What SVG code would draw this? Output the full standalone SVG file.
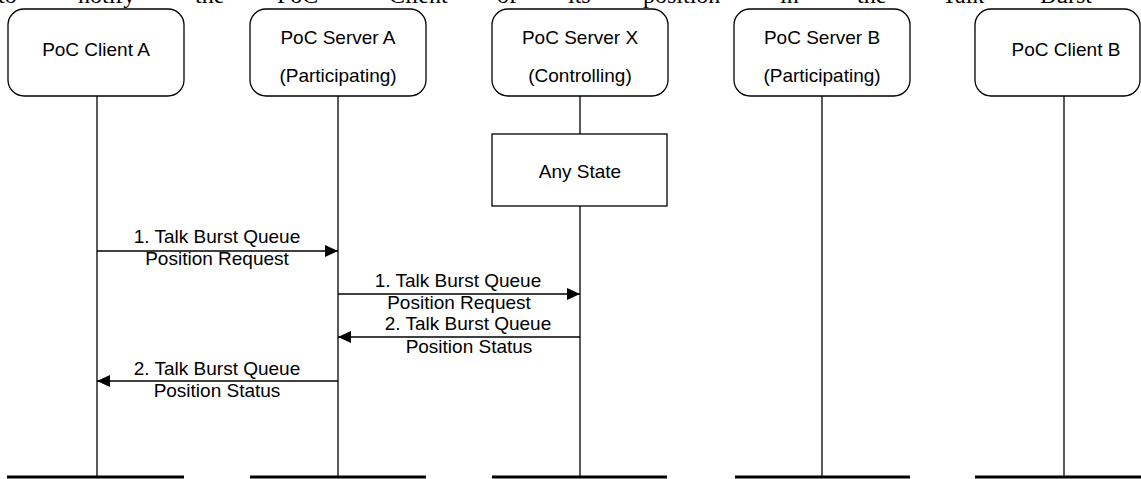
<svg xmlns="http://www.w3.org/2000/svg" width="1141" height="479" viewBox="0 0 1141 479">
<style>
.box{fill:#fff;stroke:#000;stroke-width:1.3}
.t{font-family:"Liberation Sans",Arial,sans-serif;font-size:19px;fill:#000;text-anchor:middle}
.life{stroke:#000;stroke-width:1.3}
.base{stroke:#000;stroke-width:3}
.msg{stroke:#000;stroke-width:1.3;fill:none}
.page{font-family:"Liberation Serif","Times New Roman",serif;font-size:24px;fill:#000}
</style>
<defs>
<marker id="ah" viewBox="0 0 13 12" refX="13" refY="6" markerWidth="13" markerHeight="12" markerUnits="userSpaceOnUse" orient="auto">
<path d="M0,0 L13,6 L0,12 Z" fill="#000"/>
</marker>
</defs>
<rect width="1141" height="479" fill="#fff"/>
<g id="page-text" class="page">
<text x="-2" y="3">to</text>
<text x="78" y="3">notify</text>
<text x="195" y="3">the</text>
<text x="277" y="3">PoC</text>
<text x="389" y="3">Client</text>
<text x="497" y="3">of</text>
<text x="568" y="3">its</text>
<text x="643" y="3">position</text>
<text x="780" y="3">in</text>
<text x="857" y="3">the</text>
<text x="942" y="3">Talk</text>
<text x="1040" y="3">Burst</text>
</g>
<g id="lifelines">
<line class="life" x1="97" y1="96" x2="97" y2="477"/>
<line class="life" x1="338" y1="96" x2="338" y2="477"/>
<line class="life" x1="580" y1="96" x2="580" y2="477"/>
<line class="life" x1="822" y1="96" x2="822" y2="477"/>
<line class="life" x1="1064" y1="96" x2="1064" y2="477"/>
<line class="base" x1="7" y1="477" x2="184" y2="477"/>
<line class="base" x1="250" y1="477" x2="426" y2="477"/>
<line class="base" x1="492" y1="477" x2="667" y2="477"/>
<line class="base" x1="735" y1="477" x2="910" y2="477"/>
<line class="base" x1="975" y1="477" x2="1141" y2="477"/>
</g>
<g id="clientA">
<rect class="box" x="8" y="9" width="176" height="87" rx="16"/>
<text class="t" x="96" y="56">PoC Client A</text>
</g>
<g id="serverA">
<rect class="box" x="250" y="9" width="176" height="87" rx="16"/>
<text class="t" x="338" y="44">PoC Server A</text>
<text class="t" x="338" y="82">(Participating)</text>
</g>
<g id="serverX">
<rect class="box" x="492" y="9" width="176" height="87" rx="16"/>
<text class="t" x="580" y="44">PoC Server X</text>
<text class="t" x="580" y="82">(Controlling)</text>
</g>
<g id="serverB">
<rect class="box" x="734" y="9" width="176" height="87" rx="16"/>
<text class="t" x="822" y="44">PoC Server B</text>
<text class="t" x="822" y="82">(Participating)</text>
</g>
<g id="clientB">
<rect class="box" x="975" y="9" width="165" height="87" rx="16"/>
<text class="t" x="1066" y="56">PoC Client B</text>
</g>
<g id="anyState">
<rect class="box" x="492" y="134" width="175" height="72"/>
<text class="t" x="580" y="178">Any State</text>
</g>
<g id="connectors">
<line class="msg" x1="97" y1="251" x2="338" y2="251" marker-end="url(#ah)"/>
<line class="msg" x1="338" y1="294" x2="580" y2="294" marker-end="url(#ah)"/>
<line class="msg" x1="580" y1="337" x2="338" y2="337" marker-end="url(#ah)"/>
<line class="msg" x1="338" y1="381" x2="97" y2="381" marker-end="url(#ah)"/>
<text class="t" x="217" y="243">1. Talk Burst Queue</text>
<text class="t" x="217" y="265">Position Request</text>
<text class="t" x="458" y="287">1. Talk Burst Queue</text>
<text class="t" x="459" y="309">Position Request</text>
<text class="t" x="468" y="330">2. Talk Burst Queue</text>
<text class="t" x="469" y="353">Position Status</text>
<text class="t" x="217" y="375">2. Talk Burst Queue</text>
<text class="t" x="217" y="397">Position Status</text>
</g>
</svg>
